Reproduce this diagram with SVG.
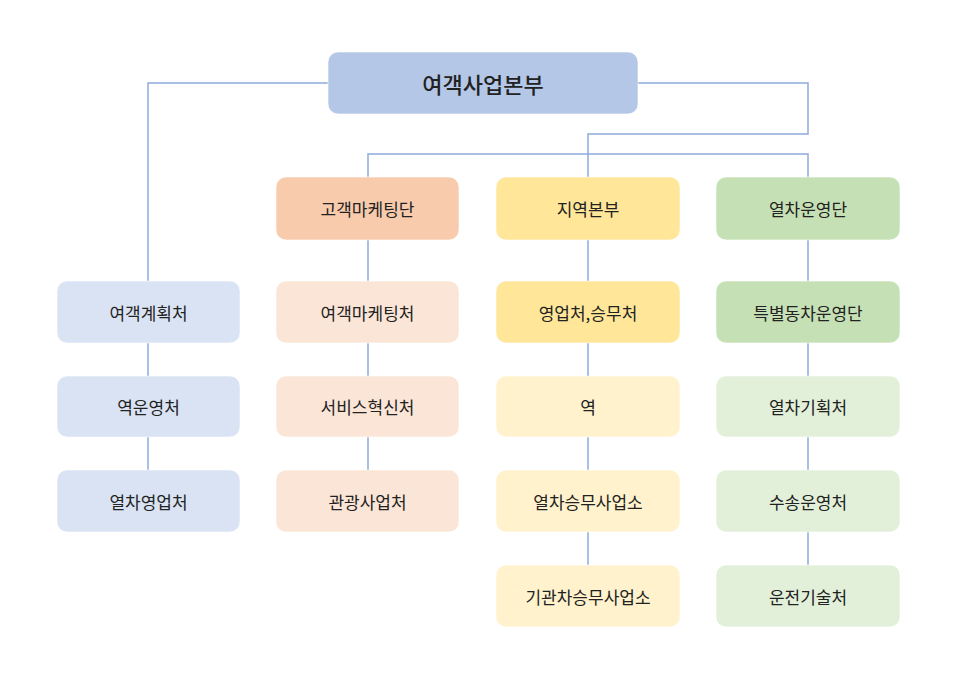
<svg xmlns="http://www.w3.org/2000/svg" width="960" height="688" viewBox="0 0 960 688">
<style>
.box{stroke:#ffffff;stroke-opacity:0.6;stroke-width:1}
.t{font-family:"Noto Sans CJK KR","Noto Sans",sans-serif;font-size:17px;fill:#222;text-anchor:middle;dominant-baseline:central}
.top{font-size:22px;font-weight:500}
.c{fill:none;stroke:#8faadc;stroke-width:1.5}
</style>
<rect width="960" height="688" fill="#ffffff"/>
<g id="connectors">
<path class="c" d="M328 83 H148 V281"/>
<path class="c" d="M638 83 H808 V134 H588 V177"/>
<path class="c" d="M368 177 V154 H808 V177"/>
<path class="c" d="M148 343 V376 M148 437 V470"/>
<path class="c" d="M368 240 V281 M368 343 V376 M368 437 V470"/>
<path class="c" d="M588 240 V281 M588 343 V376 M588 437 V470 M588 532 V565"/>
<path class="c" d="M808 240 V281 M808 343 V376 M808 437 V470 M808 532 V565"/>
</g>
<g id="n0"><rect class="box" x="328" y="52" width="310" height="62" rx="10" fill="#b4c7e7"/><text class="t top" x="483" y="83">여객사업본부</text></g>
<g id="n1"><rect class="box" x="57" y="281" width="183" height="62" rx="10" fill="#dae3f3"/><text class="t" x="148.5" y="312">여객계획처</text></g>
<g id="n2"><rect class="box" x="57" y="376" width="183" height="61" rx="10" fill="#dae3f3"/><text class="t" x="148.5" y="406.5">역운영처</text></g>
<g id="n3"><rect class="box" x="57" y="470" width="183" height="62" rx="10" fill="#dae3f3"/><text class="t" x="148.5" y="501">열차영업처</text></g>
<g id="n4"><rect class="box" x="276" y="177" width="183" height="63" rx="10" fill="#f8cbad"/><text class="t" x="367.5" y="208.5">고객마케팅단</text></g>
<g id="n5"><rect class="box" x="276" y="281" width="183" height="62" rx="10" fill="#fbe5d6"/><text class="t" x="367.5" y="312">여객마케팅처</text></g>
<g id="n6"><rect class="box" x="276" y="376" width="183" height="61" rx="10" fill="#fbe5d6"/><text class="t" x="367.5" y="406.5">서비스혁신처</text></g>
<g id="n7"><rect class="box" x="276" y="470" width="183" height="62" rx="10" fill="#fbe5d6"/><text class="t" x="367.5" y="501">관광사업처</text></g>
<g id="n8"><rect class="box" x="496" y="177" width="184" height="63" rx="10" fill="#ffe699"/><text class="t" x="588" y="208.5">지역본부</text></g>
<g id="n9"><rect class="box" x="496" y="281" width="184" height="62" rx="10" fill="#ffe699"/><text class="t" x="588" y="312">영업처,승무처</text></g>
<g id="n10"><rect class="box" x="496" y="376" width="184" height="61" rx="10" fill="#fff2cc"/><text class="t" x="588" y="406.5">역</text></g>
<g id="n11"><rect class="box" x="496" y="470" width="184" height="62" rx="10" fill="#fff2cc"/><text class="t" x="588" y="501">열차승무사업소</text></g>
<g id="n12"><rect class="box" x="496" y="565" width="184" height="62" rx="10" fill="#fff2cc"/><text class="t" x="588" y="596">기관차승무사업소</text></g>
<g id="n13"><rect class="box" x="716" y="177" width="184" height="63" rx="10" fill="#c5e0b4"/><text class="t" x="808" y="208.5">열차운영단</text></g>
<g id="n14"><rect class="box" x="716" y="281" width="184" height="62" rx="10" fill="#c5e0b4"/><text class="t" x="808" y="312">특별동차운영단</text></g>
<g id="n15"><rect class="box" x="716" y="376" width="184" height="61" rx="10" fill="#e2f0d9"/><text class="t" x="808" y="406.5">열차기획처</text></g>
<g id="n16"><rect class="box" x="716" y="470" width="184" height="62" rx="10" fill="#e2f0d9"/><text class="t" x="808" y="501">수송운영처</text></g>
<g id="n17"><rect class="box" x="716" y="565" width="184" height="62" rx="10" fill="#e2f0d9"/><text class="t" x="808" y="596">운전기술처</text></g>
</svg>
